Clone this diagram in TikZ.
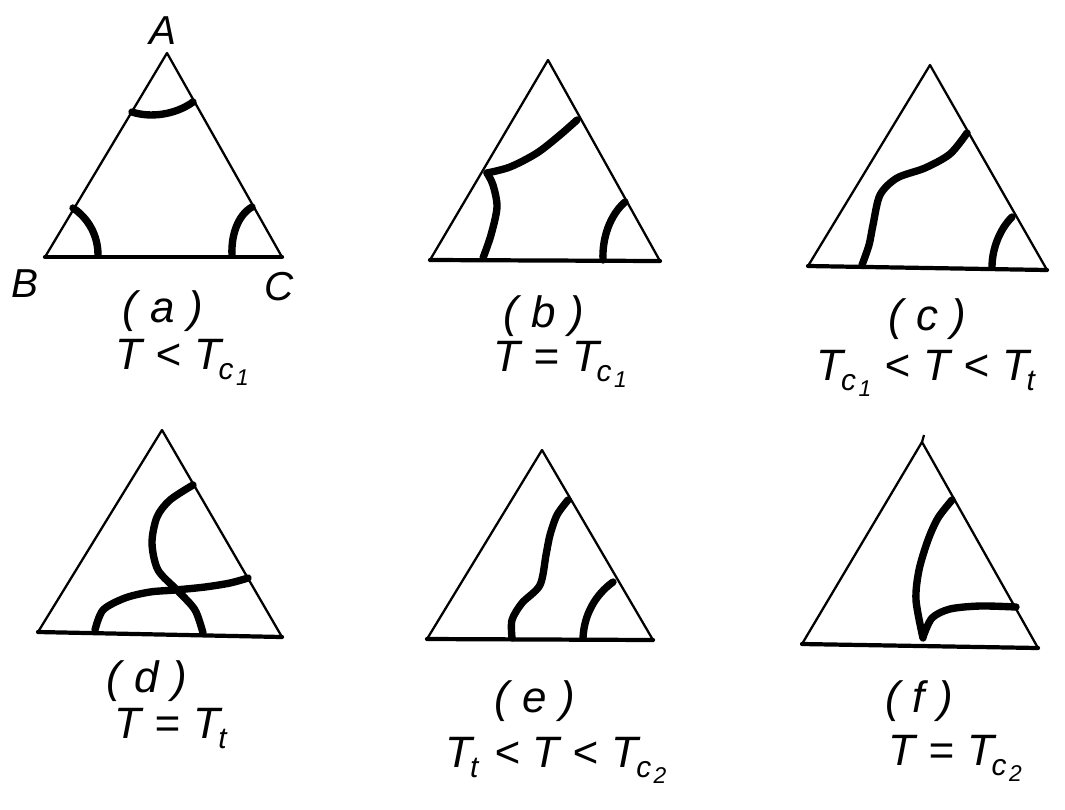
\documentclass[tikz,border=0pt]{standalone}
\usepackage{fontspec}
\setmainfont{Liberation Sans}
\newcommand{\Tsb}[2]{\textit{T}\kern-0.05em\raisebox{-0.45ex}{\fontsize{17}{17}\selectfont\textit{#1}\kern0.08em\raisebox{-0.35ex}{\fontsize{13}{13}\selectfont\textit{#2}}}}
\newcommand{\gp}{\hspace{0.3em}}
\begin{document}
\begin{tikzpicture}[x=0.02cm,y=-0.02cm,
  side/.style={line width=1.3pt,line join=round},
  basel/.style={line width=2.4pt,line cap=round},
  bound/.style={line width=4.2pt,line cap=round,line join=round},
  lbl/.style={font=\fontsize{25}{27}\selectfont\itshape,inner sep=0pt},
  vlbl/.style={font=\fontsize{23}{25}\selectfont\itshape,inner sep=0pt}]
\useasboundingbox (0,0) rectangle (1065,809);
% ---------- (a)
\coordinate (aA) at (167,53); \coordinate (aB) at (45,257); \coordinate (aC) at (282,257);
\draw[side] (aB) -- (aA) -- (aC);
\draw[basel] (aB) -- (aC);
\draw[bound] (132,112) .. controls (150,118) and (175,115) .. (193,102);
\draw[bound] (73,208) .. controls (88,218) and (98,235) .. (98,255);
\draw[bound] (252,207) .. controls (238,215) and (231,235) .. (232,255);
\node[vlbl] (labA) at (163,31) {A};
\node[vlbl] (labB) at (25,284) {B};
\node[vlbl] (labC) at (279,287) {C};
\node[lbl] (ta) at (163,311) {(\gp a\gp)};
\node[lbl] (ca) at (182,362) {\textit{T}\gp<\gp\Tsb{c}{1}};
% ---------- (b)
\coordinate (bA) at (548,60); \coordinate (bB) at (430,260); \coordinate (bC) at (660,261);
\draw[side] (bB) -- (bA) -- (bC);
\draw[basel] (bB) -- (bC);
\draw[bound] plot[smooth] coordinates {(577,120) (560,135) (537,153) (510,167) (487,173)};
\draw[bound] plot[smooth] coordinates {(487,173) (493,185) (497,207) (491,235) (483,258)};
\draw[bound] (625,202) .. controls (610,215) and (602,238) .. (603,260);
\node[lbl] (tb) at (544,316) {(\gp b\gp)};
\node[lbl] (cb) at (560,364) {\textit{T}\gp=\gp\Tsb{c}{1}};
% ---------- (c)
\coordinate (cA) at (930,65); \coordinate (cB) at (808,266); \coordinate (cC) at (1047,270);
\draw[side] (cB) -- (cA) -- (cC);
\draw[basel] (cB) -- (cC);
\draw[bound] plot[smooth] coordinates {(967,133) (950,154) (925,168) (897,178) (880,195) (873,225) (869,245) (862,265)};
\draw[bound] (1012,217) .. controls (999,230) and (992,250) .. (992,267);
\node[lbl] (tc) at (927,319) {(\gp c\gp)};
\node[lbl] (cc) at (927,373) {\Tsb{c}{1}\gp<\gp\textit{T}\gp<\gp\Tsb{t}{}};
% ---------- (d)
\coordinate (dA) at (162,430); \coordinate (dB) at (38,632); \coordinate (dC) at (282,637);
\draw[side] (dB) -- (dA) -- (dC);
\draw[basel] (dB) -- (dC);
\draw[bound] plot[smooth] coordinates {(193,485) (170,500) (157,517) (152,543) (158,570) (178,591) (195,610) (203,633)};
\draw[bound] plot[smooth] coordinates {(95,630) (103,610) (125,598) (150,592) (175,590) (205,587) (230,583) (248,578)};
\node[lbl] (td) at (147,681) {(\gp d\gp)};
\node[lbl] (cd) at (172,731) {\textit{T}\gp=\gp\Tsb{t}{}};
% ---------- (e)
\coordinate (eA) at (542,450); \coordinate (eB) at (427,639); \coordinate (eC) at (653,640);
\draw[side] (eB) -- (eA) -- (eC);
\draw[basel] (eB) -- (eC);
\draw[bound] plot[smooth] coordinates {(568,500) (557,515) (550,535) (546,555) (540,585) (522,603) (512,620) (512,638)};
\draw[bound] (613,582) .. controls (595,595) and (584,615) .. (583,638);
\node[lbl] (te) at (535,701) {(\gp e\gp)};
\node[lbl] (ce) at (556,760) {\Tsb{t}{}\gp<\gp\textit{T}\gp<\gp\Tsb{c}{2}};
% ---------- (f)
\coordinate (fA) at (922,442); \coordinate (fB) at (802,644); \coordinate (fC) at (1038,648);
\draw[side] (fB) -- (fA) -- (fC);
\draw[side] (fA) -- (924,435);
\draw[basel] (fB) -- (fC);
\draw[bound] plot[smooth] coordinates {(952,500) (938,518) (928,540) (919,570) (916,600) (923,638)};
\draw[bound] plot[smooth] coordinates {(923,637) (932,618) (950,609) (980,606) (1016,607)};
\node[lbl] (tf) at (919,701) {(\gp\textit{f}\gp)};
\node[lbl] (cf) at (955,758) {\textit{T}\gp=\gp\Tsb{c}{2}};
\end{tikzpicture}
\end{document}
